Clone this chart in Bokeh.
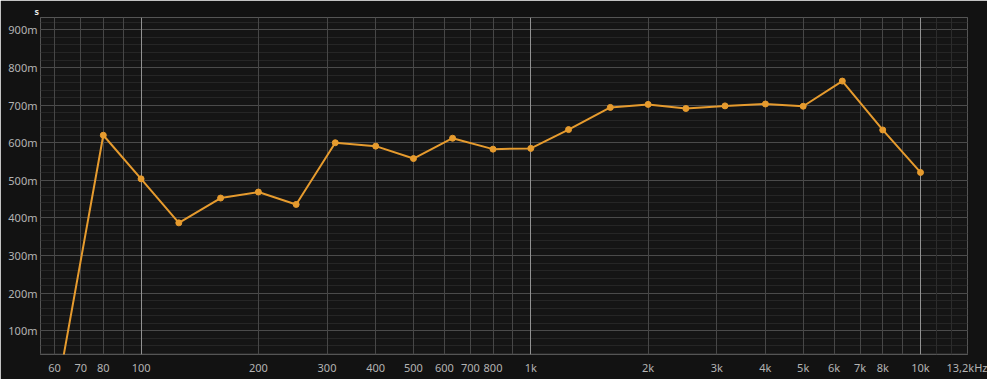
from bokeh.plotting import figure
from bokeh.models import FixedTicker, Grid, Title, ColumnDataSource
from bokeh.embed import file_html
from bokeh.resources import INLINE

# ---- data ----
freqs = [63, 80, 100, 125, 160, 200, 250, 315, 400, 500, 630, 800, 1000,
         1250, 1600, 2000, 2500, 3150, 4000, 5000, 6300, 8000, 10000]
values = [0.023, 0.620, 0.504, 0.387, 0.453, 0.469, 0.436, 0.600, 0.591, 0.558,
          0.612, 0.583, 0.585, 0.635, 0.694, 0.702, 0.691, 0.698, 0.703, 0.697,
          0.764, 0.634, 0.521]

x_tick_values = [60, 70, 80, 100, 200, 300, 400, 500, 600, 700, 800, 1000,
                 2000, 3000, 4000, 5000, 6000, 7000, 8000, 10000, 13200]
x_tick_labels = ["60", "70", "80", "100", "200", "300", "400", "500", "600",
                 "700", "800", "1k", "2k", "3k", "4k", "5k", "6k", "7k", "8k",
                 "10k", "13,2kHz"]
x_decade_lines = [100, 1000, 10000]
x_sub_lines = [60, 70, 80, 90, 200, 300, 400, 500, 600, 700, 800, 900,
               2000, 3000, 4000, 5000, 6000, 7000, 8000, 9000]
x_fine_lines = [11000, 12000]

y_tick_values = [0.1, 0.2, 0.3, 0.4, 0.5, 0.6, 0.7, 0.8, 0.9]
y_tick_labels = ["100m", "200m", "300m", "400m", "500m", "600m", "700m", "800m", "900m"]
y_minor_values = [round(0.02 * i, 2) for i in range(1, 47)]

x_range = (55.2, 13200)
y_range = (0.037, 0.933)
unit_label = "s"

# ---- figure ----
p = figure(width=987, height=379, x_axis_type="log",
           x_range=x_range, y_range=y_range,
           output_backend="svg", toolbar_location=None,
           min_border_left=40, min_border_right=20,
           min_border_top=17, min_border_bottom=25)

p.border_fill_color = "#121212"
p.background_fill_color = "#151515"
p.outline_line_color = "#555555"
p.outline_line_width = 1

p.title = Title(text=unit_label, align="left", offset=-6, standoff=0,
                text_font_size="9px", text_color="#e6e6e6",
                text_font="Noto Sans", text_font_style="bold")

# grids
p.xgrid.visible = False
p.ygrid.ticker = FixedTicker(ticks=y_tick_values, minor_ticks=y_minor_values)
p.ygrid.grid_line_color = "#4b4b4b"
p.ygrid.minor_grid_line_color = "#262626"

p.add_layout(Grid(dimension=0, ticker=FixedTicker(ticks=x_fine_lines),
                  grid_line_color="#2c2c2c"))
p.add_layout(Grid(dimension=0, ticker=FixedTicker(ticks=x_sub_lines),
                  grid_line_color="#474747"))
p.add_layout(Grid(dimension=0, ticker=FixedTicker(ticks=x_decade_lines),
                  grid_line_color="#929292"))

# axes
xa = p.xaxis[0]
xa.ticker = FixedTicker(ticks=x_tick_values)
xa.major_label_overrides = {v: l for v, l in zip(x_tick_values, x_tick_labels)}
ya = p.yaxis[0]
ya.ticker = FixedTicker(ticks=y_tick_values)
ya.major_label_overrides = {v: l for v, l in zip(y_tick_values, y_tick_labels)}

for ax in (xa, ya):
    ax.axis_line_color = None
    ax.major_tick_line_color = None
    ax.minor_tick_line_color = None
    ax.major_tick_out = 0
    ax.major_tick_in = 0
    ax.minor_tick_out = 0
    ax.minor_tick_in = 0
    ax.major_label_text_font = "Noto Sans"
    ax.major_label_text_font_size = "11px"
    ax.major_label_text_color = "#b4b4b4"
xa.major_label_standoff = 5
ya.major_label_standoff = 3

# data
src = ColumnDataSource(dict(f=freqs, v=values))
color = "#e69b2e"
p.line("f", "v", source=src, line_color=color, line_width=2)
p.scatter("f", "v", source=src, size=6, fill_color=color, line_color=color)

open("out.html", "w").write(file_html(p, INLINE))
